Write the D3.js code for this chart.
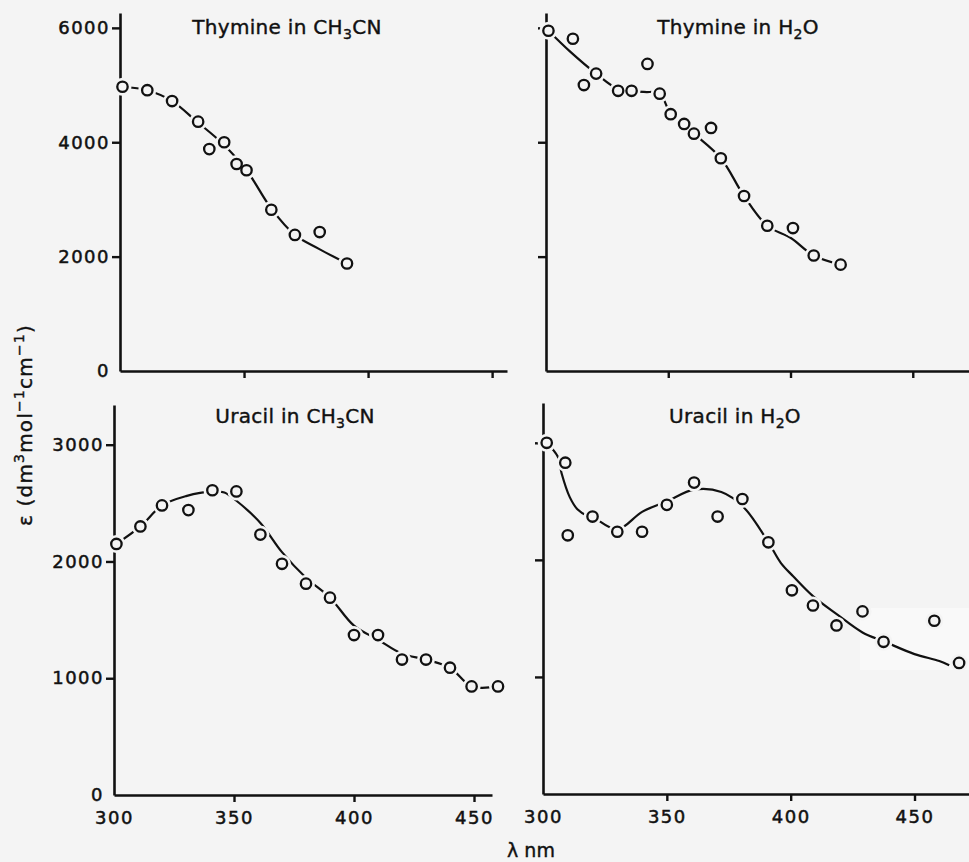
<!DOCTYPE html>
<html>
<head>
<meta charset="utf-8">
<script src="https://cdn.jsdelivr.net/npm/d3@7"></script>
<style>
body { margin: 0; background: #f4f4f4; }
svg { display: block; }
text { font-family: "DejaVu Sans", sans-serif; fill: #111; }
</style>
</head>
<body>
<svg id="chart" width="969" height="862"></svg>
<script>
// Thymine in CH3CN
var thyAcnWl   = [301, 311, 321, 331.5, 336, 342, 347, 351, 361, 370.5, 380.5, 391.5];
var thyAcnEps  = [4970, 4910, 4720, 4360, 3880, 4000, 3620, 3510, 2820, 2380, 2430, 1880];
var thyAcnFitWl  = [301, 311, 321, 331, 341, 351, 361, 370.5, 380, 391.5];
var thyAcnFitEps = [4970, 4910, 4720, 4360, 3990, 3510, 2840, 2380, 2140, 1880];

// Thymine in H2O
var thyWatWl   = [301, 311, 315.5, 320.5, 329.5, 335, 341.5, 346.5, 351, 356.5, 360.5, 367.5, 371.5, 381, 390.5, 401, 409.5, 420.5];
var thyWatEps  = [5950, 5810, 5000, 5200, 4900, 4900, 5370, 4850, 4490, 4320, 4150, 4250, 3720, 3060, 2540, 2500, 2020, 1860];
var thyWatFitWl  = [301, 310, 320.5, 330, 340, 346.5, 351, 360.5, 371.5, 381, 390.5, 400, 409.5, 420.5];
var thyWatFitEps = [5950, 5580, 5200, 4920, 4880, 4850, 4500, 4150, 3720, 3060, 2540, 2330, 2020, 1860];

// Uracil in CH3CN
var uraAcnWl   = [301, 311, 320, 331, 341, 351, 361, 370, 380, 390, 400, 410, 420, 430, 440, 449, 460];
var uraAcnEps  = [2150, 2300, 2480, 2440, 2610, 2600, 2230, 1980, 1810, 1690, 1370, 1370, 1160, 1160, 1090, 930, 930];
var uraAcnFitWl  = [301, 311, 320, 330, 341, 346, 351, 361, 370, 380, 390, 400, 410, 420, 430, 440, 449, 460];
var uraAcnFitEps = [2150, 2300, 2480, 2560, 2600, 2590, 2520, 2330, 2080, 1860, 1690, 1450, 1330, 1210, 1160, 1090, 930, 930];

// Uracil in H2O
var uraWatWl   = [301.5, 309, 310, 320, 330, 340, 350, 361, 370.5, 380.5, 391, 400.5, 409, 418.5, 429, 437.5, 458, 468];
var uraWatEps  = [3000, 2830, 2210, 2370, 2240, 2240, 2470, 2660, 2370, 2520, 2150, 1740, 1610, 1440, 1560, 1300, 1480, 1120];
var uraWatFitWl  = [301.5, 306, 307.5, 310.8, 314, 318, 320, 330, 340, 350, 361, 372, 381, 391, 396, 401, 409, 419, 429, 438, 450, 460, 464];
var uraWatFitEps = [3000, 2880, 2740, 2536, 2430, 2375, 2366, 2260, 2410, 2500, 2600, 2580, 2450, 2150, 1975, 1860, 1690, 1530, 1380, 1300, 1195, 1136, 1100];

var xTicks = [300, 350, 400, 450];
var yTicksTop = [0, 2000, 4000, 6000];
var yTicksBottom = [0, 1000, 2000, 3000];

var panels = [
	{title: ["Thymine in CH", "3", "CN"], wl: thyAcnWl, eps: thyAcnEps, fitWl: thyAcnFitWl, fitEps: thyAcnFitEps,
	 yTicks: yTicksTop, yMax: 6260, xMax: 456, left: 120, right: 507, top: 13, bottom: 371,
	 yLabels: true, xLabels: false, titleX: 287, titleY: 34},
	{title: ["Thymine in H", "2", "O"], wl: thyWatWl, eps: thyWatEps, fitWl: thyWatFitWl, fitEps: thyWatFitEps,
	 yTicks: yTicksTop, yMax: 6260, xMax: 473, left: 546, right: 969, top: 13, bottom: 371,
	 yLabels: false, xLabels: false, titleX: 738, titleY: 34},
	{title: ["Uracil in CH", "3", "CN"], wl: uraAcnWl, eps: uraAcnEps, fitWl: uraAcnFitWl, fitEps: uraAcnFitEps,
	 yTicks: yTicksBottom, yMax: 3340, xMax: 457.5, left: 114, right: 492, top: 405, bottom: 795,
	 yLabels: true, xLabels: true, titleX: 295, titleY: 423},
	{title: ["Uracil in H", "2", "O"], wl: uraWatWl, eps: uraWatEps, fitWl: uraWatFitWl, fitEps: uraWatFitEps,
	 yTicks: yTicksBottom, yMax: 3340, xMax: 472, left: 543, right: 969, top: 403, bottom: 794,
	 yLabels: false, xLabels: true, titleX: 735, titleY: 423}
];

var BG = "#f4f4f4";
var INK = "#111";

var svg = d3.select("#chart");
svg.append("rect").attr("width", 969).attr("height", 862).attr("fill", BG);
// lighter scan patch in the last panel
svg.append("rect").attr("x", 860).attr("y", 608).attr("width", 109).attr("height", 62).attr("fill", "#f9f9f9");

function drawPanel(p) {
	var g = svg.append("g");
	var x = d3.scaleLinear().domain([300, p.xMax]).range([p.left, p.right]);
	var y = d3.scaleLinear().domain([0, p.yMax]).range([p.bottom, p.top]);

	// y axis
	var ya = d3.axisLeft(y).tickValues(p.yTicks).tickSize(8).tickSizeOuter(0)
		.tickFormat(p.yLabels ? d3.format("d") : "");
	var yg = g.append("g").attr("transform", "translate(" + x(300) + ",0)").call(ya);
	yg.selectAll("text").attr("x", -10).style("font-size", "18px")
		.style("letter-spacing", "1.5px").attr("stroke", INK).attr("stroke-width", 0.5);
	yg.selectAll(".tick").filter(function(d) { return d === 0; })
		.select("line").remove();

	// x axis
	var xa = d3.axisBottom(x).tickValues(xTicks).tickSize(7).tickSizeOuter(0)
		.tickFormat(p.xLabels ? d3.format("d") : "");
	var xg = g.append("g").attr("transform", "translate(0," + p.bottom + ")").call(xa);
	xg.selectAll(".tick").filter(function(d) { return d === 300; })
		.select("line").remove();
	xg.selectAll("text").attr("y", 16).style("font-size", "18px")
		.style("letter-spacing", "1.5px").attr("stroke", INK).attr("stroke-width", 0.5);

	g.selectAll(".domain").attr("stroke", INK).attr("stroke-width", 2.6);
	g.selectAll(".tick line").attr("stroke", INK).attr("stroke-width", 2.4);

	// fitted curve
	var fit = p.fitWl.map(function(w, i) { return [w, p.fitEps[i]]; });
	var line = d3.line()
		.x(function(d) { return x(d[0]); })
		.y(function(d) { return y(d[1]); })
		.curve(d3.curveCatmullRom.alpha(0.5));
	g.append("path").datum(fit).attr("d", line)
		.attr("fill", "none").attr("stroke", INK).attr("stroke-width", 2.2);

	// points: mask first, then rings
	var pts = p.wl.map(function(w, i) { return [w, p.eps[i]]; });
	g.append("g").selectAll("circle").data(pts).join("circle")
		.attr("cx", function(d) { return x(d[0]); })
		.attr("cy", function(d) { return y(d[1]); })
		.attr("r", 9).attr("fill", BG);
	g.append("g").selectAll("circle").data(pts).join("circle")
		.attr("cx", function(d) { return x(d[0]); })
		.attr("cy", function(d) { return y(d[1]); })
		.attr("r", 5.2).attr("fill", "none")
		.attr("stroke", INK).attr("stroke-width", 2.3);

	// title
	var t = g.append("text").attr("x", p.titleX).attr("y", p.titleY)
		.attr("text-anchor", "middle").style("font-size", "20px")
		.style("letter-spacing", "0.3px")
		.attr("stroke", INK).attr("stroke-width", 0.4);
	t.append("tspan").text(p.title[0]);
	t.append("tspan").attr("dy", 5).style("font-size", "14px").text(p.title[1]);
	t.append("tspan").attr("dy", -5).text(p.title[2]);
}

panels.forEach(drawPanel);

// y axis title
var yt = svg.append("text")
	.attr("transform", "translate(32,425) rotate(-90)")
	.attr("text-anchor", "middle").style("font-size", "20px")
	.style("letter-spacing", "1.2px")
	.attr("stroke", INK).attr("stroke-width", 0.4);
yt.append("tspan").text("\u03b5 (dm");
yt.append("tspan").attr("dy", -8).style("font-size", "14px").text("3");
yt.append("tspan").attr("dy", 8).text("mol");
yt.append("tspan").attr("dy", -8).style("font-size", "14px").text("\u22121");
yt.append("tspan").attr("dy", 8).text("cm");
yt.append("tspan").attr("dy", -8).style("font-size", "14px").text("\u22121");
yt.append("tspan").attr("dy", 8).text(")");

// x axis title
svg.append("text").attr("x", 531).attr("y", 857)
	.attr("text-anchor", "middle").style("font-size", "19px")
	.attr("stroke", INK).attr("stroke-width", 0.4)
	.text("\u03bb nm");
</script>
</body>
</html>
